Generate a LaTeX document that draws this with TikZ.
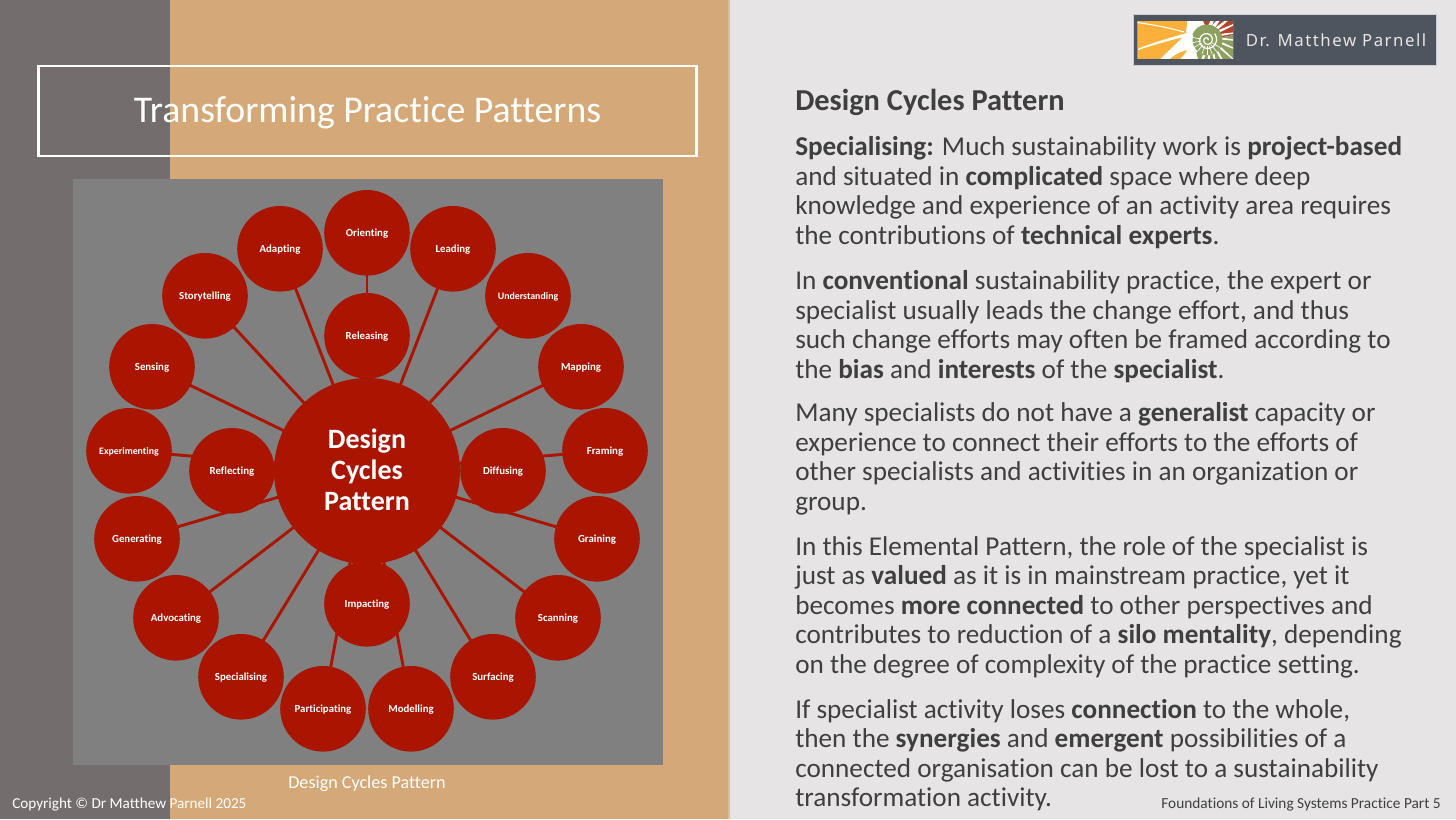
\documentclass[tikz,border=0pt]{standalone}
\usetikzlibrary{calc}
\usepackage{fontspec}
\setmainfont{Carlito}[Ligatures=NoCommon]
\newfontfamily\logofont[LetterSpace=9]{Noto Sans}
\definecolor{bandgrey}{HTML}{746D6D}
\definecolor{bandorange}{HTML}{D5A878}
\definecolor{pagegrey}{HTML}{E6E4E5}
\definecolor{panelgrey}{HTML}{808080}
\definecolor{hubred}{HTML}{A91500}
\definecolor{bodytext}{HTML}{3F3F3F}
\definecolor{logobox}{HTML}{4F555E}
\definecolor{logoorange}{HTML}{FBB03B}
\definecolor{logogreen}{HTML}{8CA060}
\definecolor{logored}{HTML}{B0452C}
\pgfdeclarelayer{base}
\pgfdeclarelayer{links}
\pgfsetlayers{base,links,main}
\tikzset{
  x=0.75pt,y=-0.75pt,
  petal/.style={circle,fill=hubred,draw=none,minimum size=64.2pt,inner sep=0pt,text=white,text height=6.2pt,text depth=1pt,font=\fontsize{8.1pt}{9pt}\selectfont\bfseries},
  smallpetal/.style={petal,font=\fontsize{7.4pt}{9pt}\selectfont\bfseries},
  hub/.style={circle,fill=hubred,draw=none,minimum size=139.5pt,inner sep=0pt,text=white,align=center,font=\fontsize{21pt}{23.2pt}\selectfont\bfseries},
  spoke/.style={draw=hubred,line width=2.2pt},
  para/.style={anchor=north west,align=left,inner sep=0pt,text=bodytext,font=\fontsize{20.4pt}{22.15pt}\selectfont},
}
\begin{document}
\begin{tikzpicture}
\useasboundingbox (0,0) rectangle (1456,819);
\begin{pgfonlayer}{base}
\fill[pagegrey] (0,0) rectangle (1456,819);
\fill[bandorange!60!pagegrey] (727.5,0) rectangle (730,819);
\fill[bandorange] (170,0) rectangle (728,819);
\fill[bandgrey] (0,0) rectangle (170,819);
\fill[panelgrey] (73,179) rectangle (663,765);
\end{pgfonlayer}
% title
\node[draw=white,line width=2.2pt,minimum width=494pt,minimum height=67.5pt,inner sep=0pt] (titlebox) at (367.5,111) {};
\node[text=white,font=\fontsize{28.3pt}{32pt}\selectfont] (title) at (367.5,112.5) {Transforming Practice Patterns};
% hub and petals
\node[hub] (hubc) at (367,471) {Design\\Cycles\\Pattern\rule[-1.5pt]{0pt}{0pt}};
\node[petal] (orienting) at (367,232.8) {Orienting};
\node[petal] (leading) at (453,248.8) {Leading};
\node[smallpetal] (understanding) at (528,295.8) {Understanding};
\node[petal] (mapping) at (581,366.8) {Mapping};
\node[petal] (framing) at (605,450.8) {Framing};
\node[petal] (graining) at (597,538.8) {Graining};
\node[petal] (scanning) at (558,617.8) {Scanning};
\node[petal] (surfacing) at (493,676.8) {Surfacing};
\node[petal] (modelling) at (411,708.8) {Modelling};
\node[petal] (participating) at (323,708.8) {Participating};
\node[petal] (specialising) at (241,676.8) {Specialising};
\node[petal] (advocating) at (176,617.8) {Advocating};
\node[petal] (generating) at (137,538.8) {Generating};
\node[smallpetal] (experimenting) at (129,450.8) {Experimenting};
\node[petal] (sensing) at (152,366.8) {Sensing};
\node[petal] (storytelling) at (205,295.8) {Storytelling};
\node[petal] (adapting) at (280,248.8) {Adapting};
\node[petal] (releasing) at (367,335.8) {Releasing};
\node[petal] (diffusing) at (503,470.8) {Diffusing};
\node[petal] (impacting) at (367,603.8) {Impacting};
\node[petal] (reflecting) at (232,470.8) {Reflecting};
\begin{pgfonlayer}{links}
\foreach \n in {orienting,leading,understanding,mapping,framing,graining,scanning,surfacing,modelling,participating,specialising,advocating,generating,experimenting,sensing,storytelling,adapting}
  {\draw[spoke] (hubc.center) -- (\n.center);}
\end{pgfonlayer}
% captions
\node[text=white,font=\fontsize{13.6pt}{16pt}\selectfont] (caption) at (367,783.5) {Design Cycles Pattern};
\node[text=white,anchor=west,inner sep=0pt,font=\fontsize{11.4pt}{13pt}\selectfont] (copyright) at (12,804.5) {Copyright © Dr Matthew Parnell 2025};
\node[text=bodytext,anchor=east,inner sep=0pt,font=\fontsize{11.5pt}{13pt}\selectfont] (footer) at (1441,804.5) {Foundations of Living Systems Practice Part 5};
% body text
\node[para,font=\fontsize{22.8pt}{26pt}\selectfont\bfseries] (head) at (795,89) {Design Cycles Pattern};
\node[para] (p1) at (795,136.5) {\textbf{Specialising:} Much sustainability work is \textbf{project-based}\\and situated in \textbf{complicated} space where deep\\knowledge and experience of an activity area requires\\the contributions of \textbf{technical experts}.};
\node[para] (p2) at (795,270.5) {In \textbf{conventional} sustainability practice, the expert or\\specialist usually leads the change effort, and thus\\such change efforts may often be framed according to\\the \textbf{bias} and \textbf{interests} of the \textbf{specialist}.};
\node[para] (p3) at (795,402.5) {Many specialists do not have a \textbf{generalist} capacity or\\experience to connect their efforts to the efforts of\\other specialists and activities in an organization or\\group.};
\node[para] (p4) at (795,536) {In this Elemental Pattern, the role of the specialist is\\just as \textbf{valued} as it is in mainstream practice, yet it\\becomes \textbf{more connected} to other perspectives and\\contributes to reduction of a \textbf{silo mentality}, depending\\on the degree of complexity of the practice setting.};
\node[para] (p5) at (795,699) {If specialist activity loses \textbf{connection} to the whole,\\then the \textbf{synergies} and \textbf{emergent} possibilities of a\\connected organisation can be lost to a sustainability\\transformation activity.};
% logo
\node[draw=white!70!logobox,line width=0.5pt,fill=logobox,minimum width=227pt,minimum height=38.5pt,inner sep=0pt] (logobg) at (1284.5,40) {};
\node[text=pagegrey,anchor=west,inner sep=0pt,font=\logofont\fontsize{12.6pt}{15pt}\selectfont] (logotext) at (1245.5,40) {Dr. Matthew Parnell};
\begin{scope}
\clip (1137.5,21.7) rectangle (1233,58.7);
\fill[white] (1137,21) rectangle (1234,59);
% orange blades
\fill[logoorange] (1137,21) -- (1187,21) .. controls (1187,26) and (1186,30) .. (1186,33) .. controls (1170,38) and (1150,43) .. (1137,49.3) -- cycle;
\draw[white,line width=0.8pt] (1137,22.5) .. controls (1155,25) and (1170,28) .. (1184,32);
\fill[logoorange] (1137,50.6) .. controls (1150,46) and (1168,41) .. (1182,37.5) .. controls (1175,45) and (1167,52) .. (1160,59) -- (1137,59) -- cycle;
\fill[logoorange] (1170,59) .. controls (1174,55) and (1180,52) .. (1187,50) .. controls (1185,54) and (1182,57) .. (1180,59) -- cycle;
% red and green
\fill[logored] (1195,21) -- (1234,21) -- (1234,35) -- (1218,38) -- cycle;
\fill[logogreen] (1234,35) -- (1218,38) -- (1205,30) -- (1193,40) -- (1198,59) -- (1234,59) -- cycle;
\fill[white] (1190,21) -- (1203,21) -- (1209,34) -- (1192,36) -- cycle;
% tapering white rays
\foreach \a/\w in {-78/7,-64/7,-50/6,-36/5,-20/4,-5/4,12/4,30/4,48/4,65/4,82/4,100/5}
  {\fill[white] (1207,40) ++(\a-\w:15) -- ($(1207,40)+(\a+8:48)$) -- ($(1207,40)+(\a+\w:15)$) -- cycle;}
\fill[logogreen] (1207,40) circle (15.5);
\fill[white] (1207,40) ++(200:17) arc (200:130:17) -- (1207,40) -- cycle;
\fill[logogreen] (1207,40) circle (14.5);
\foreach \a in {30,50,...,190}
  {\draw[white,line width=0.5pt] (1207,40) ++(\a:6) -- ++(\a:9);}
\draw[white,line width=0.9pt] plot[domain=0:760,samples=70,smooth] ({1207+(1+\x/85)*cos(\x)},{40+(1+\x/85)*sin(\x)*(-1)});
\end{scope}
\end{tikzpicture}
\end{document}
